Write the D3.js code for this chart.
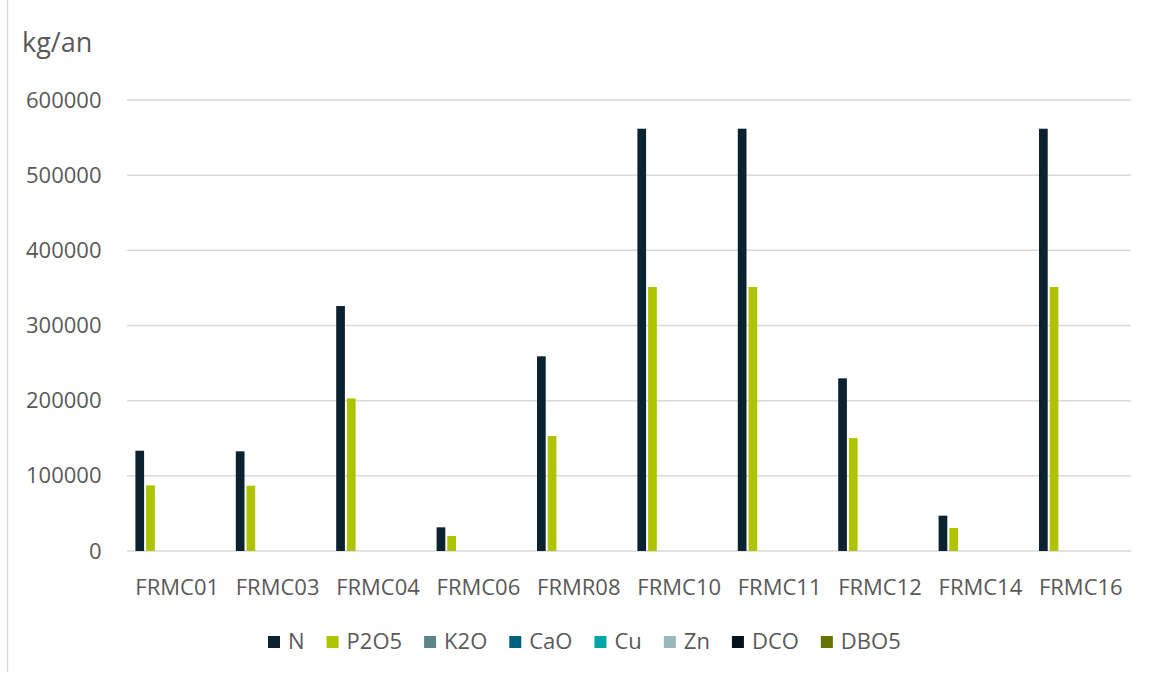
<!DOCTYPE html>
<html>
<head>
<meta charset="utf-8">
<script src="https://cdn.jsdelivr.net/npm/d3@7"></script>
<style>
  html, body { margin: 0; padding: 0; background: #ffffff; }
  svg { display: block; font-family: "Open Sans", "Noto Sans", sans-serif; }
</style>
</head>
<body>
<svg id="chart" width="1150" height="675"></svg>
<script>
// ---- Data ----
const categories = ["FRMC01","FRMC03","FRMC04","FRMC06","FRMR08","FRMC10","FRMC11","FRMC12","FRMC14","FRMC16"];
const seriesNames = ["N","P2O5","K2O","CaO","Cu","Zn","DCO","DBO5"];
const seriesColors = ["#0b2230","#afc300","#5b8588","#00617f","#00a6a6","#98b8bb","#05131c","#677300"];
const valuesN    = [133400, 132600, 325900, 31500, 259000, 561800, 561800, 229700, 47000, 561800];
const valuesP2O5 = [87400, 86900, 203100, 20000, 153000, 351200, 351200, 150300, 30600, 351200];
const valuesK2O  = [0,0,0,0,0,0,0,0,0,0];
const valuesCaO  = [0,0,0,0,0,0,0,0,0,0];
const valuesCu   = [0,0,0,0,0,0,0,0,0,0];
const valuesZn   = [0,0,0,0,0,0,0,0,0,0];
const valuesDCO  = [0,0,0,0,0,0,0,0,0,0];
const valuesDBO5 = [0,0,0,0,0,0,0,0,0,0];
const yTicks = [0, 100000, 200000, 300000, 400000, 500000, 600000];
const yUnit = "kg/an";

const seriesValues = [valuesN, valuesP2O5, valuesK2O, valuesCaO, valuesCu, valuesZn, valuesDCO, valuesDBO5];

// ---- Layout ----
const svg = d3.select("#chart");
const plot = { left: 127, right: 1131, top: 100, bottom: 551 };
const textColor = "#595959";
const gridColor = "#d9d9d9";
const fs = 22;

// chart area left border
svg.append("line")
  .attr("x1", 7.5).attr("x2", 7.5).attr("y1", 0).attr("y2", 672)
  .attr("stroke", gridColor).attr("stroke-width", 1.5);

const x0 = d3.scaleBand().domain(categories).range([plot.left, plot.right]).padding(0);
const x1 = d3.scaleBand().domain(seriesNames).range([8.4, 92.0]).paddingInner(0.187).paddingOuter(0);
const y = d3.scaleLinear().domain([0, 600000]).range([plot.bottom, plot.top]);

// gridlines
svg.append("g").selectAll("line").data(yTicks).join("line")
  .attr("x1", plot.left).attr("x2", plot.right)
  .attr("y1", d => y(d)).attr("y2", d => y(d))
  .attr("stroke", gridColor).attr("stroke-width", 1.5);

// y axis labels
const yAxis = d3.axisLeft(y).tickValues(yTicks).tickSize(0).tickPadding(0).tickFormat(d3.format("d"));
const gy = svg.append("g").attr("transform", `translate(${101.5},0)`).call(yAxis);
gy.select(".domain").remove();
gy.selectAll("text").attr("fill", textColor).attr("font-size", fs).attr("font-family", '"Open Sans", sans-serif');

// x axis labels
const xAxis = d3.axisBottom(x0).tickSize(0).tickPadding(0);
const gx = svg.append("g").attr("transform", `translate(0,${plot.bottom})`).call(xAxis);
gx.select(".domain").remove();
gx.selectAll("text").attr("fill", textColor).attr("font-size", fs)
  .attr("font-family", '"Open Sans", sans-serif')
  .attr("dy", null).attr("y", 44);

// unit label
svg.append("text").attr("x", 22).attr("y", 52).attr("fill", textColor)
  .attr("font-size", 27).text(yUnit);

// bars
const groups = svg.append("g").selectAll("g").data(categories).join("g")
  .attr("transform", d => `translate(${x0(d)},0)`);
groups.selectAll("rect")
  .data((c, i) => seriesNames.map((s, j) => ({ s, j, v: seriesValues[j][i] })))
  .join("rect")
  .attr("x", d => x1(d.s))
  .attr("width", x1.bandwidth())
  .attr("y", d => y(d.v))
  .attr("height", d => y(0) - y(d.v))
  .attr("fill", d => seriesColors[d.j]);

// legend
const legend = svg.append("g");
let lx = 268;
seriesNames.forEach((name, j) => {
  const g = legend.append("g").attr("transform", `translate(${lx},0)`);
  g.append("rect").attr("x", 0).attr("y", 636).attr("width", 12).attr("height", 12).attr("fill", seriesColors[j]);
  const t = g.append("text").attr("x", 20).attr("y", 649).attr("fill", textColor)
    .attr("font-size", fs).text(name);
  const w = t.node().getComputedTextLength();
  lx += 20 + w + 22;
});
</script>
</body>
</html>
